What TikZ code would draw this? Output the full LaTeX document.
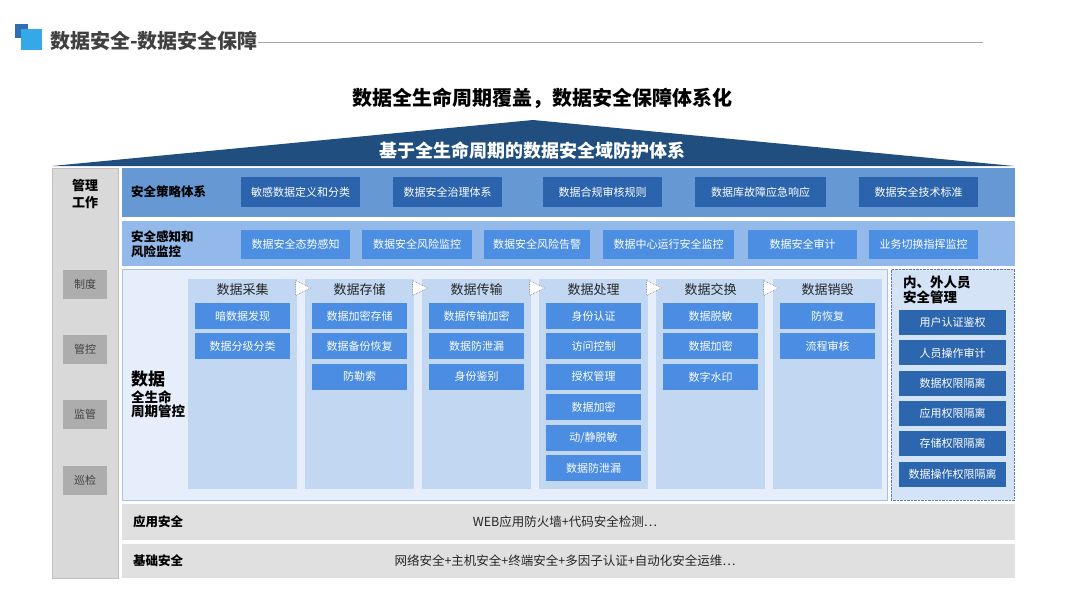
\documentclass[tikz,border=0pt]{standalone}
\usepackage{fontspec}
\setmainfont{Noto Sans CJK SC}
\usetikzlibrary{positioning, calc, shapes.geometric}
\definecolor{icondark}{HTML}{2F6DB5}
\definecolor{iconlight}{HTML}{35A8EA}
\definecolor{titlegray}{HTML}{404040}
\definecolor{linegray}{HTML}{A6A6A6}
\definecolor{roofblue}{HTML}{1F4E7F}
\definecolor{polbg}{HTML}{6698D4}
\definecolor{polbox}{HTML}{2B64AC}
\definecolor{monbg}{HTML}{93B9EA}
\definecolor{monbox}{HTML}{4C8FE2}
\definecolor{lifebg}{HTML}{E5EEFA}
\definecolor{lifeborder}{HTML}{A9C2E2}
\definecolor{stagebg}{HTML}{C2D7F2}
\definecolor{itemblue}{HTML}{4A8DE2}
\definecolor{panelbg}{HTML}{D4E3F6}
\definecolor{panelborder}{HTML}{5F7FA8}
\definecolor{panelbox}{HTML}{2C66AF}
\definecolor{basegray}{HTML}{E0E0E0}
\definecolor{colgray}{HTML}{D9D9D9}
\definecolor{colborder}{HTML}{BFBFBF}
\definecolor{taggray}{HTML}{ADADAD}
\definecolor{inkdark}{HTML}{262626}
\newcommand{\fsz}[2]{\fontsize{#1}{#2}\selectfont}

\begin{document}
\begin{tikzpicture}[
  x=1pt, y=-1pt,
  boxtext/.style={text=white, inner sep=0, font=\fsz{11}{13}},
]

% =============================================
% Box styles
% =============================================
\tikzset{
  bandbox/.style 2 args={
    anchor=north west, fill=#1, inner sep=0,
    minimum width=893, minimum height=#2,
  },
  policybox/.style={boxtext, fill=polbox, minimum height=30},
  monitorbox/.style={boxtext, fill=monbox, minimum height=29},
  stagecol/.style={anchor=north, fill=stagebg, inner sep=0,
    minimum width=109, minimum height=210},
  stagehead/.style={font=\fsz{13}{15}, text=inkdark, inner sep=0},
  itembox/.style={boxtext, fill=itemblue, minimum width=95, minimum height=26},
  panelitem/.style={boxtext, fill=panelbox, minimum width=107, minimum height=25},
  stagetri/.style={isosceles triangle, isosceles triangle stretches,
    fill=white, draw=gray!90, densely dotted, line width=0.7pt, inner sep=0,
    minimum width=15, minimum height=15},
  rowlabel/.style={anchor=west, align=left, inner sep=0, text=black,
    font=\bfseries\fsz{12.5}{14.5}},
  tagbox/.style={fill=taggray, text=titlegray, inner sep=0,
    minimum width=44, minimum height=29, font=\fsz{11}{13}},
}

\useasboundingbox (0,0) rectangle (1080,608);

% =============================================
% Header: icon, title, rule, subtitle
% =============================================
\fill[icondark] (14.5,24) rectangle (27.5,38);
\fill[iconlight] (21,29) rectangle (41.5,50);
\node[anchor=west, inner sep=0, font=\bfseries\fsz{20}{22}, text=titlegray]
  (title) at (50,41) {数据安全-数据安全保障};
\coordinate (ruleend) at (983,42);
\draw[linegray, line width=1pt] (title.east |- ruleend) -- (ruleend);

\node[font=\bfseries\fsz{20}{22}, text=black, inner sep=0] (subtitle) at (542,98)
  {数据全生命周期覆盖，数据安全保障体系化};

% =============================================
% Roof
% =============================================
\fill[roofblue] (52,166) -- (533,120) -- (1014,166) -- cycle;
\node[font=\bfseries\fsz{18}{20}, text=white, inner sep=0] (roof) at (532,151)
  {基于全生命周期的数据安全域防护体系};

% =============================================
% Left column: management work
% =============================================
\node[anchor=north west, draw=colborder, fill=colgray, inner sep=0,
  minimum width=66, minimum height=410] (mgmt) at (52,168) {};
\node[align=center, inner sep=0, font=\bfseries\fsz{13}{16.5}] (mgmtlbl) at (85,194)
  {管理\\工作};
\node[tagbox] (tag1) at (85,284.5) {制度};
\node[tagbox] (tag2) at (85,349.5) {管控};
\node[tagbox] (tag3) at (85,414.5) {监管};
\node[tagbox] (tag4) at (85,480) {巡检};

% =============================================
% Row 1: security policy
% =============================================
\node[bandbox={polbg}{49}] (policy) at (122,168) {};
\node[rowlabel] (policylbl) at (131,192) {安全策略体系};
\node[policybox, minimum width=119] (pol1) at (300.5,192) {敏感数据定义和分类};
\node[policybox, minimum width=109] (pol2) at (447.5,192) {数据安全治理体系};
\node[policybox, minimum width=119] (pol3) at (602.5,192) {数据合规审核规则};
\node[policybox, minimum width=131] (pol4) at (760.5,192) {数据库故障应急响应};
\node[policybox, minimum width=119] (pol5) at (918.5,192) {数据安全技术标准};

% =============================================
% Row 2: awareness and risk monitoring
% =============================================
\node[bandbox={monbg}{45}] (monitor) at (122,221) {};
\node[rowlabel] (monitorlbl) at (131,244) {安全感知和\\风险监控};
\node[monitorbox, minimum width=109] (mon1) at (295.5,244.5) {数据安全态势感知};
\node[monitorbox, minimum width=110] (mon2) at (417,244.5) {数据安全风险监控};
\node[monitorbox, minimum width=106] (mon3) at (537,244.5) {数据安全风险告警};
\node[monitorbox, minimum width=131] (mon4) at (668.5,244.5) {数据中心运行安全监控};
\node[monitorbox, minimum width=109] (mon5) at (802.5,244.5) {数据安全审计};
\node[monitorbox, minimum width=109] (mon6) at (923.5,244.5) {业务切换指挥监控};

% =============================================
% Lifecycle block with six stages
% =============================================
\node[anchor=north west, fill=lifebg, draw=lifeborder, inner sep=0,
  minimum width=765, minimum height=231] (life) at (122,269) {};
\node[anchor=west, inner sep=0, font=\bfseries\fsz{17}{19}] (lifelbl) at (131,379) {数据};
\node[anchor=north west, align=left, inner sep=0, font=\bfseries\fsz{13.5}{14.5}]
  (lifesub) at ($(lifelbl.south west)+(0,3)$) {全生命\\周期管控};

\node[stagecol] (acq) at (242.5,279) {};
\node[stagecol] (sto) at (359.5,279) {};
\node[stagecol] (tra) at (476.5,279) {};
\node[stagecol] (pro) at (593.5,279) {};
\node[stagecol] (exc) at (710.5,279) {};
\node[stagecol] (des) at (827.5,279) {};

\node[stagehead] at (242.5,290) {数据采集};
\node[stagehead] at (359.5,290) {数据存储};
\node[stagehead] at (476.5,290) {数据传输};
\node[stagehead] at (593.5,290) {数据处理};
\node[stagehead] at (710.5,290) {数据交换};
\node[stagehead] at (827.5,290) {数据销毁};

\foreach \col in {acq, sto, tra, pro, exc}
  \node[stagetri] (\col-next) at ($(\col.north east)+(3,9)$) {};

\foreach \txt [count=\i] in {暗数据发现, 数据分级分类}
  \node[itembox] (acq-\i) at (242.5,316+30.4*\i-30.4) {\txt};
\foreach \txt [count=\i] in {数据加密存储, 数据备份恢复, 防勒索}
  \node[itembox] (sto-\i) at (359.5,316+30.4*\i-30.4) {\txt};
\foreach \txt [count=\i] in {数据传输加密, 数据防泄漏, 身份鉴别}
  \node[itembox] (tra-\i) at (476.5,316+30.4*\i-30.4) {\txt};
\foreach \txt [count=\i] in {身份认证, 访问控制, 授权管理, 数据加密, 动/静脱敏, 数据防泄漏}
  \node[itembox] (pro-\i) at (593.5,316+30.4*\i-30.4) {\txt};
\foreach \txt [count=\i] in {数据脱敏, 数据加密, 数字水印}
  \node[itembox] (exc-\i) at (710.5,316+30.4*\i-30.4) {\txt};
\foreach \txt [count=\i] in {防恢复, 流程审核}
  \node[itembox] (des-\i) at (827.5,316+30.4*\i-30.4) {\txt};

% =============================================
% Right panel: staff security management
% =============================================
\node[anchor=north west, fill=panelbg, draw=panelborder, densely dotted, inner sep=0,
  minimum width=123, minimum height=231] (staff) at (891,269) {};
\node[anchor=west, align=left, inner sep=0, font=\bfseries\fsz{13.5}{15}]
  (stafflbl) at (903,290) {内、外人员\\安全管理};
\foreach \txt [count=\i] in {用户认证鉴权, 人员操作审计, 数据权限隔离,
    应用权限隔离, 存储权限隔离, 数据操作权限隔离}
  \node[panelitem] (staff-\i) at (952.5,322.5+30.3*\i-30.3) {\txt};

% =============================================
% Bottom rows: application and base security
% =============================================
\node[bandbox={basegray}{36}] (app) at (122,504) {};
\node[rowlabel] (applbl) at (133,522) {应用安全};
\node[inner sep=0, font=\fsz{12.5}{14}, text=inkdark] (apptxt) at (565,522)
  {WEB应用防火墙+代码安全检测…};

\node[bandbox={basegray}{34}] (base) at (122,544) {};
\node[rowlabel] (baselbl) at (133,561) {基础安全};
\node[inner sep=0, font=\fsz{12.5}{14}, text=inkdark] (basetxt) at (565,561)
  {网络安全+主机安全+终端安全+多因子认证+自动化安全运维…};

\end{tikzpicture}
\end{document}
